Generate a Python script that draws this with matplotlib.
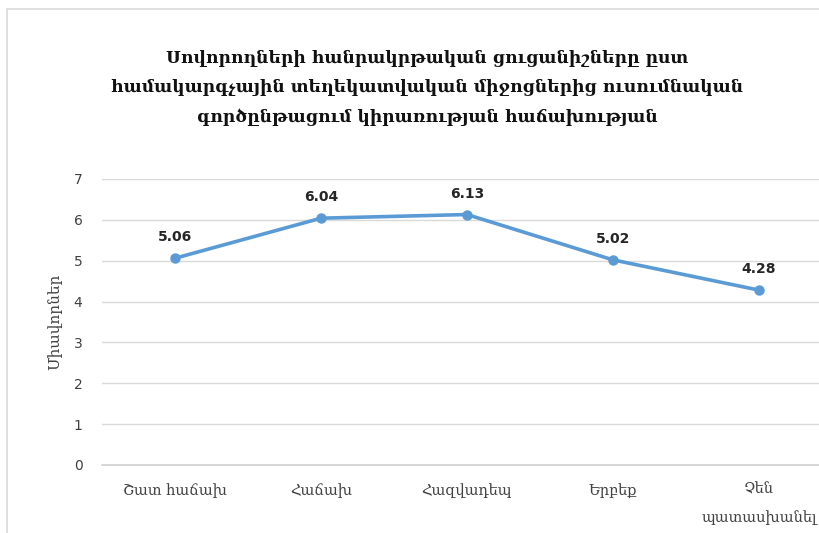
import matplotlib.pyplot as plt
from matplotlib.patches import Rectangle

# chart data
categories = ['Շատ հաճախ', 'Հաճախ', 'Հազվադեպ', 'Երբեք', 'Չեն\nպատասխանել']
scores = [5.06, 6.04, 6.13, 5.02, 4.28]
title = ('Սովորողների հանրակրթական ցուցանիշները ըստ\n'
         'համակարգչային տեղեկատվական միջոցներից ուսումնական\n'
         'գործընթացում կիրառության հաճախության')
y_name = 'Միավորներ'

arm_font = ['DejaVu Serif', 'DejaVu Sans']

fig = plt.figure(figsize=(8.19, 5.33), dpi=100)
ax = fig.add_axes([0.1245, 0.1276, 0.8913, 0.5366])

x = list(range(len(categories)))
ax.plot(x, scores, color='#5B9BD5', linewidth=2.6, marker='o', markersize=6.5, zorder=3)

for xi, v in zip(x, scores):
    ax.annotate('%.2f' % v, (xi, v), xytext=(0, 10), textcoords='offset points',
                ha='center', va='bottom', fontsize=10, fontweight='bold', color='#262626')

ax.set_xlim(-0.5, len(categories) - 0.5)
ax.set_ylim(0, 7)
ax.set_yticks(range(0, 8))
ax.yaxis.grid(True, color='#d9d9d9', linewidth=1)
ax.axhline(0, color='#d0d0d0', linewidth=1.2, clip_on=False, zorder=1)
ax.set_axisbelow(True)
for s in ax.spines.values():
    s.set_visible(False)
ax.tick_params(axis='y', length=0, pad=14, labelsize=10, labelcolor='#404040')
ax.tick_params(axis='x', length=0, pad=13)
ax.set_xticks(x)
ax.set_xticklabels(categories, family=arm_font, fontsize=10.5, color='#404040',
                   linespacing=2.1)
ax.set_ylabel(y_name, family=arm_font, fontsize=11, color='#404040', labelpad=8)

fig.text(0.522, 0.835, title, family=arm_font, fontsize=12.3, fontweight='bold',
         ha='center', va='center', linespacing=1.95, color='#111111')

# chart border (cut at right and bottom)
fig.patches.append(Rectangle((7 / 819, -0.1), 1.2, 1 - 9 / 533 + 0.1,
                             transform=fig.transFigure, fill=False,
                             edgecolor='#d9d9d9', linewidth=1.2))

fig.savefig('out.png', dpi=100)
